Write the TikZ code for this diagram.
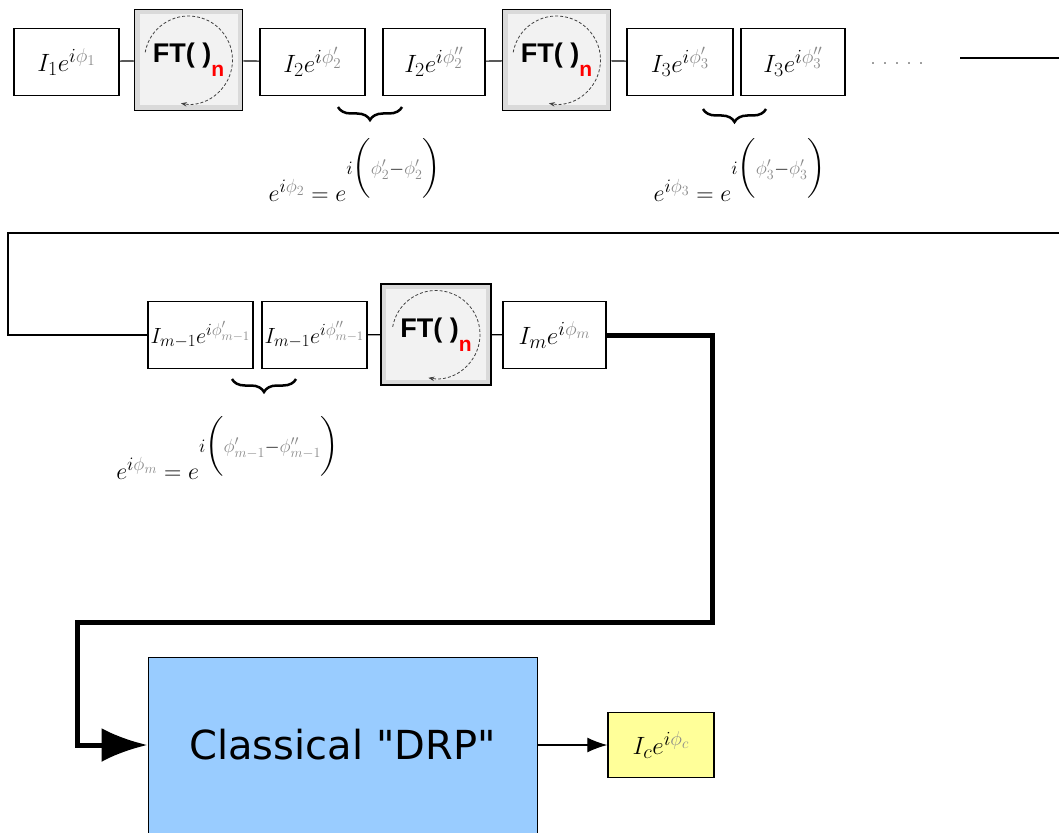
\RequirePackage{fix-cm}
\documentclass[tikz,border=0pt]{standalone}
\usepackage{amsmath}
\usepackage{fontspec}
\setsansfont{DejaVu Sans}[Ligatures=TeXOff]
\newfontfamily\ftfont{Liberation Sans}
\usetikzlibrary{arrows.meta, decorations.pathreplacing, calc}
\DeclareMathSizes{25}{25}{20}{15}
\DeclareMathSizes{22}{22}{17}{13}
\DeclareMathSizes{24}{24}{19}{14}
\definecolor{drpblue}{HTML}{99CCFF}
\definecolor{outyellow}{HTML}{FFFF99}
\definecolor{phigray}{HTML}{8A8A8A}
\definecolor{ftgray}{HTML}{DADADA}
\newcommand{\gphi}[2][]{{\color{phigray}\phi#1_{#2}}}
\newcommand{\ftlabel}{{\ftfont\bfseries FT( )\raisebox{-14pt}{\fontsize{21}{21}\selectfont\color{red}n}}}
\tikzset{
	phasenode/.style={
			rectangle,
			draw=black,
			line width=1.5pt,
			fill=white,
			minimum width=105pt,
			minimum height=67pt,
			inner sep=0pt,
			font=\fontsize{25}{30}\selectfont
		},
	ftnode/.style={
			rectangle,
			draw=black,
			line width=1.5pt,
			fill=ftgray,
			minimum width=108pt,
			minimum height=101pt,
			inner sep=0pt,
			font=\fontsize{27}{30}\selectfont,
			path picture={
				\fill[black!5] ([shift={(5pt,-5pt)}]path picture bounding box.north west)
					rectangle ([shift={(-5pt,5pt)}]path picture bounding box.south east);
				\draw[black!75, line width=0.8pt, dash pattern=on 3pt off 2pt, -{Stealth[length=6pt]}]
					($(path picture bounding box.center)+(170:44pt)$)
					arc[start angle=170, end angle=-100, radius=44pt];
			}
		},
	drpnode/.style={
			rectangle,
			draw=black,
			line width=1pt,
			fill=drpblue,
			minimum width=389pt,
			minimum height=176pt,
			font=\sffamily\fontsize{40}{48}\selectfont
		},
	outnode/.style={
			phasenode,
			fill=outyellow,
			minimum width=106pt,
			minimum height=65pt
		},
	formnode/.style={
			font=\fontsize{24}{28}\selectfont
		}
}
\begin{document}
\begin{tikzpicture}[x=1pt, y=-1pt]
\useasboundingbox (0,0) rectangle (1059,832);
% first row
\node[phasenode] (i1) at (66.5,62) {$I_1e^{i\gphi{1}}$};
\node[ftnode] (ft1) at (188.5,60) {\ftlabel};
\node[phasenode] (i2a) at (312.5,62) {$I_2e^{i\gphi[']{2}}$};
\node[phasenode, minimum width=102pt] (i2b) at (434,62) {$I_2e^{i\gphi['']{2}}$};
\node[ftnode] (ft2) at (556.5,60) {\ftlabel};
\node[phasenode, minimum width=106pt] (i3a) at (680,62) {$I_3e^{i\gphi[']{3}}$};
\node[phasenode, minimum width=104pt] (i3b) at (793,62) {$I_3e^{i\gphi['']{3}}$};
\node[text=black!55, font=\fontsize{24}{28}\selectfont] (dots) at (897,64) {.\hspace{6pt}.\hspace{6pt}.\hspace{6pt}.\hspace{6pt}.};
\coordinate (r1a) at (960,58);
\coordinate (r1b) at (1059,58);

\draw[line width=1.2pt] (i1) -- (ft1);
\draw[line width=1.2pt] (ft1) -- (i2a);
\draw[line width=1.2pt] (i2b) -- (ft2);
\draw[line width=1.2pt] (ft2) -- (i3a);
\draw[line width=1.2pt] (r1a) -- (r1b);

\draw[line width=2.5pt, decorate, decoration={brace, amplitude=13pt}] (402,107) -- (338,107);
\draw[line width=2.5pt, decorate, decoration={brace, amplitude=13pt}] (766,109) -- (703,109);
\node[formnode] (f2) at (355,170) {$e^{i\gphi{2}}=e^{i\bigg(\gphi[']{2}-\gphi[']{2}\bigg)}$};
\node[formnode] (f3) at (740,170) {$e^{i\gphi{3}}=e^{i\bigg(\gphi[']{3}-\gphi[']{3}\bigg)}$};

% second row
\coordinate (r2a) at (1059,233);
\coordinate (r2b) at (8,233);
\node[phasenode, font=\fontsize{22}{26}\selectfont] (im1a) at (200.5,335) {$I_{m-1}e^{i\gphi[']{m-1}}$};
\node[phasenode, font=\fontsize{22}{26}\selectfont] (im1b) at (314.5,335) {$I_{m-1}e^{i\gphi['']{m-1}}$};
\node[ftnode, minimum width=110pt] (ft3) at (436,334.5) {\ftlabel};
\node[phasenode, minimum width=103pt] (im) at (554.5,335) {$I_me^{i\gphi{m}}$};

\draw[line width=1.2pt] (r2a) -- (r2b) |- (im1a.west);
\draw[line width=1.2pt] (im1b) -- (ft3);
\draw[line width=1.2pt] (ft3) -- (im);

\draw[line width=2.5pt, decorate, decoration={brace, amplitude=13pt}] (296,379) -- (232,379);
\node[formnode] (fm) at (228,448) {$e^{i\gphi{m}}=e^{i\bigg(\gphi[']{m-1}-\gphi['']{m-1}\bigg)}$};

% third row
\node[drpnode] (drp) at (342.5,745) {Classical "DRP"};
\node[outnode] (ic) at (661,745) {$I_ce^{i\gphi{c}}$};
\coordinate (k1) at (712,622);
\coordinate (k2) at (77,622);

\draw[line width=5pt, -{Latex[length=46pt,width=34pt]}] (im.east) -| (k1) -- (k2) |- (drp.west);
\draw[line width=1.2pt, -{Latex[length=20pt,width=15pt]}] (drp) -- (ic);
\end{tikzpicture}
\end{document}
